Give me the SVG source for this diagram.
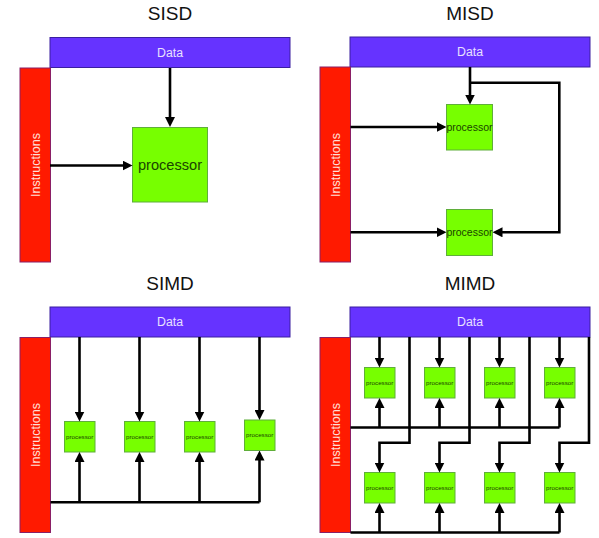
<svg xmlns="http://www.w3.org/2000/svg" width="599" height="538" viewBox="0 0 599 538">
<style>
text{font-family:"Liberation Sans",Arial,sans-serif}
.title{font-size:19px;fill:#111;text-anchor:middle}
.data{fill:#6633ff;stroke:#3a1fa0;stroke-width:1}
.dtxt{font-size:12.3px;fill:#e8e0ff;text-anchor:middle}
.instr{fill:#ff1a00;stroke:#8a1f66;stroke-width:1}
.itxt{font-size:12.5px;fill:#ffe0da;text-anchor:middle}
.proc{fill:#77ff00;stroke:#5fae3a;stroke-width:1}
.ptxt{fill:#1a4400;text-anchor:middle}
.c{fill:none;stroke:#000;stroke-width:2.6}
.a{marker-end:url(#ah)}
</style>
<defs>
<marker id="ah" viewBox="0 0 10 10" markerWidth="10" markerHeight="10" markerUnits="userSpaceOnUse" refX="4" refY="5" orient="auto">
<path d="M0,0 L10,5 L0,10 z" fill="#000"/>
</marker>
</defs>
<rect width="599" height="538" fill="#fff"/>

<!-- titles -->
<g id="titles">
<text class="title" x="170" y="20">SISD</text>
<text class="title" x="470" y="20">MISD</text>
<text class="title" x="170" y="290">SIMD</text>
<text class="title" x="470" y="290">MIMD</text>
</g>

<!-- SISD -->
<g id="sisd-data"><rect class="data" x="50" y="37.5" width="240" height="30"/><text class="dtxt" x="170" y="56.5">Data</text></g>
<g id="sisd-instr"><rect class="instr" x="20" y="68" width="30.5" height="194"/><text class="itxt" transform="translate(40,165) rotate(-90)">Instructions</text></g>
<g id="sisd-proc"><rect class="proc" x="132.5" y="127.5" width="75" height="74.5"/><text class="ptxt" x="170" y="170" font-size="14.6">processor</text></g>

<!-- MISD -->
<g id="misd-data"><rect class="data" x="350" y="37" width="240" height="30"/><text class="dtxt" x="470" y="56">Data</text></g>
<g id="misd-instr"><rect class="instr" x="320" y="67" width="30.5" height="195"/><text class="itxt" transform="translate(340,165) rotate(-90)">Instructions</text></g>
<g id="misd-proc1"><rect class="proc" x="446.5" y="104.5" width="46" height="45.5"/><text class="ptxt" x="469.5" y="131" font-size="10.5">processor</text></g>
<g id="misd-proc2"><rect class="proc" x="446.5" y="209.5" width="46" height="46"/><text class="ptxt" x="469.5" y="236" font-size="10.5">processor</text></g>

<!-- SIMD -->
<g id="simd-data"><rect class="data" x="50" y="307" width="240" height="30"/><text class="dtxt" x="170" y="326">Data</text></g>
<g id="simd-instr"><rect class="instr" x="20" y="337.5" width="30.5" height="195"/><text class="itxt" transform="translate(40,435) rotate(-90)">Instructions</text></g>
<g id="simd-p1"><rect class="proc" x="64.5" y="421.5" width="30.5" height="30.5"/><text class="ptxt" x="79.7" y="438.8" font-size="6.2">processor</text></g>
<g id="simd-p2"><rect class="proc" x="124.5" y="421.5" width="30.5" height="30.5"/><text class="ptxt" x="139.7" y="438.8" font-size="6.2">processor</text></g>
<g id="simd-p3"><rect class="proc" x="184.5" y="421.5" width="30.5" height="30.5"/><text class="ptxt" x="199.7" y="438.8" font-size="6.2">processor</text></g>
<g id="simd-p4"><rect class="proc" x="244.5" y="420" width="30.5" height="30.5"/><text class="ptxt" x="259.7" y="437.3" font-size="6.2">processor</text></g>

<!-- MIMD -->
<g id="mimd-data"><rect class="data" x="350" y="307" width="240" height="30"/><text class="dtxt" x="470" y="326">Data</text></g>
<g id="mimd-instr"><rect class="instr" x="320" y="337.5" width="30.5" height="195"/><text class="itxt" transform="translate(340,435) rotate(-90)">Instructions</text></g>
<g id="mimd-p1"><rect class="proc" x="364.5" y="367.5" width="30.5" height="30.5"/><text class="ptxt" x="379.7" y="384.8" font-size="6.2">processor</text></g>
<g id="mimd-p2"><rect class="proc" x="424.5" y="367.5" width="30.5" height="30.5"/><text class="ptxt" x="439.7" y="384.8" font-size="6.2">processor</text></g>
<g id="mimd-p3"><rect class="proc" x="484.5" y="367.5" width="30.5" height="30.5"/><text class="ptxt" x="499.7" y="384.8" font-size="6.2">processor</text></g>
<g id="mimd-p4"><rect class="proc" x="544.5" y="367.5" width="30.5" height="30.5"/><text class="ptxt" x="559.7" y="384.8" font-size="6.2">processor</text></g>
<g id="mimd-p5"><rect class="proc" x="364.5" y="472.5" width="30.5" height="30.5"/><text class="ptxt" x="379.7" y="489.8" font-size="6.2">processor</text></g>
<g id="mimd-p6"><rect class="proc" x="424.5" y="472.5" width="30.5" height="30.5"/><text class="ptxt" x="439.7" y="489.8" font-size="6.2">processor</text></g>
<g id="mimd-p7"><rect class="proc" x="484.5" y="472.5" width="30.5" height="30.5"/><text class="ptxt" x="499.7" y="489.8" font-size="6.2">processor</text></g>
<g id="mimd-p8"><rect class="proc" x="544.5" y="472.5" width="30.5" height="30.5"/><text class="ptxt" x="559.7" y="489.8" font-size="6.2">processor</text></g>

<g id="connectors">
<!-- SISD -->
<path class="c a" d="M170,68 V121"/>
<path class="c a" d="M50,165.5 H126.5"/>
<!-- MISD -->
<path class="c a" d="M470,67 V98.5"/>
<path class="c a" d="M470,82.7 H559.3 V232.3 H498.5"/>
<path class="c a" d="M350.5,127 H440.5"/>
<path class="c a" d="M350.5,232.3 H440.5"/>
<!-- SIMD -->
<path class="c a" d="M79.5,337 V415.5"/>
<path class="c a" d="M139.5,337 V415.5"/>
<path class="c a" d="M199.5,337 V415.5"/>
<path class="c a" d="M259.5,337 V414"/>
<path class="c" d="M50.5,502.3 H259.5"/>
<path class="c a" d="M79.5,502.3 V458"/>
<path class="c a" d="M139.5,502.3 V458"/>
<path class="c a" d="M199.5,502.3 V458"/>
<path class="c a" d="M259.5,502.3 V456.5"/>
<!-- MIMD data to top row -->
<path class="c a" d="M379.5,337 V361.5"/>
<path class="c a" d="M439.5,337 V361.5"/>
<path class="c a" d="M499.5,337 V361.5"/>
<path class="c a" d="M559.5,337 V361.5"/>
<!-- MIMD data to bottom row -->
<path class="c a" d="M409.5,337 V442.7 H379.5 V466.5"/>
<path class="c a" d="M469.5,337 V442.7 H439.5 V466.5"/>
<path class="c a" d="M529.5,337 V442.7 H499.5 V466.5"/>
<path class="c a" d="M589,337 V442.7 H559.5 V466.5"/>
<!-- MIMD instructions top row -->
<path class="c" d="M350.5,427.5 H559.5"/>
<path class="c a" d="M379.5,427.5 V404"/>
<path class="c a" d="M439.5,427.5 V404"/>
<path class="c a" d="M499.5,427.5 V404"/>
<path class="c a" d="M559.5,427.5 V404"/>
<!-- MIMD instructions bottom row -->
<path class="c" d="M350.5,532.5 H559.5"/>
<path class="c a" d="M379.5,532.5 V509"/>
<path class="c a" d="M439.5,532.5 V509"/>
<path class="c a" d="M499.5,532.5 V509"/>
<path class="c a" d="M559.5,532.5 V509"/>
</g>
</svg>
